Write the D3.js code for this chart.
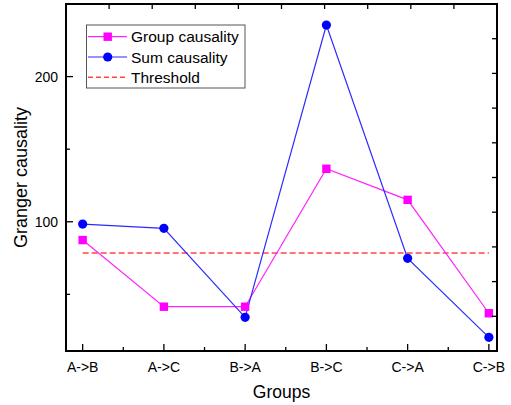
<!DOCTYPE html>
<html>
<head>
<meta charset="utf-8">
<script src="https://d3js.org/d3.v7.min.js"></script>
<style>
  body { margin: 0; background: #fff; }
  text { font-family: Arial, "Liberation Sans", sans-serif; fill: #000; }
</style>
</head>
<body>
<svg id="chart" width="511" height="405"></svg>
<script>
// --- data ---
const groups = ["A->B", "A->C", "B->A", "B->C", "C->A", "C->B"];
const groupCausality = [87.4, 41.5, 41.5, 136.5, 115.1, 37.0];
const sumCausality = [98.4, 95.5, 34.2, 235.5, 74.8, 20.4];
const threshold = 78.2;
const yMajor = [100, 200];
const yMinor = [50, 150];

const svg = d3.select("#chart");
const plotLeft = 66, plotRight = 497, plotTop = 4, plotBottom = 351;

// category index scale (Origin leaves uneven padding)
const x = d3.scaleLinear().domain([-0.205, 5.1]).range([plotLeft, plotRight]);
const y = d3.scaleLinear().domain([11, 250]).range([plotBottom, plotTop]);
// top / right axes are independent 0..10 scales
const xTop = d3.scaleLinear().domain([0, 10]).range([plotLeft, plotRight]);
const yRight = d3.scaleLinear().domain([0, 10]).range([plotBottom, plotTop]);

const thresholdColor = "#ff4646";
const g = svg.append("g");

// threshold line
const ty = Math.round(y(threshold));
g.append("line")
    .attr("x1", x(0)).attr("x2", x(groups.length - 1))
    .attr("y1", ty).attr("y2", ty)
    .attr("stroke", thresholdColor).attr("stroke-width", 1.6)
    .attr("stroke-dasharray", "6,3");

// series
const line = d3.line().x((d, i) => x(i)).y(d => y(d));
g.append("path").datum(groupCausality)
    .attr("d", line).attr("fill", "none")
    .attr("stroke", "#ff22ff").attr("stroke-width", 1.2);
g.append("path").datum(sumCausality)
    .attr("d", line).attr("fill", "none")
    .attr("stroke", "#2a2aff").attr("stroke-width", 1.2);

g.selectAll(".sq").data(groupCausality).enter().append("rect")
    .attr("x", (d, i) => x(i) - 4.2).attr("y", d => y(d) - 4.2)
    .attr("width", 8.4).attr("height", 8.4)
    .attr("fill", "#ff00ff");
g.selectAll(".dot").data(sumCausality).enter().append("circle")
    .attr("cx", (d, i) => x(i)).attr("cy", d => y(d))
    .attr("r", 4.6).attr("fill", "#0000ff");

// axes: ticks point inward
const ax = svg.append("g").attr("stroke", "#000").attr("stroke-width", 1.3);
groups.forEach((d, i) => {
    ax.append("line").attr("x1", x(i)).attr("x2", x(i)).attr("y1", plotBottom).attr("y2", plotBottom - 7);
    if (i < groups.length - 1) {
        const m = x(i + 0.5);
        ax.append("line").attr("x1", m).attr("x2", m).attr("y1", plotBottom).attr("y2", plotBottom - 4);
    }
});
yMajor.forEach(v => ax.append("line").attr("x1", plotLeft).attr("x2", plotLeft + 7).attr("y1", y(v)).attr("y2", y(v)));
yMinor.forEach(v => ax.append("line").attr("x1", plotLeft).attr("x2", plotLeft + 4).attr("y1", y(v)).attr("y2", y(v)));
d3.range(1, 10).forEach(k => {
    ax.append("line").attr("x1", xTop(k)).attr("x2", xTop(k)).attr("y1", plotTop).attr("y2", plotTop + 5);
    ax.append("line").attr("x1", plotRight).attr("x2", plotRight - 5).attr("y1", yRight(k)).attr("y2", yRight(k));
});

// frame
svg.append("rect")
    .attr("x", plotLeft).attr("y", plotTop)
    .attr("width", plotRight - plotLeft).attr("height", plotBottom - plotTop)
    .attr("fill", "none").attr("stroke", "#000").attr("stroke-width", 2);

// tick labels
svg.selectAll(".xl").data(groups).enter().append("text")
    .attr("x", (d, i) => x(i)).attr("y", 372)
    .attr("text-anchor", "middle").attr("font-size", 14)
    .text(d => d);
svg.selectAll(".yl").data(yMajor).enter().append("text")
    .attr("x", 58).attr("y", d => y(d) + 5)
    .attr("text-anchor", "end").attr("font-size", 14)
    .text(d => d);

// axis titles
svg.append("text").attr("x", (plotLeft + plotRight) / 2).attr("y", 398)
    .attr("text-anchor", "middle").attr("font-size", 17.5).text("Groups");
svg.append("text")
    .attr("transform", `translate(27,${(plotTop + plotBottom) / 2}) rotate(-90)`)
    .attr("text-anchor", "middle").attr("font-size", 18).text("Granger causality");

// legend
const lg = svg.append("g");
lg.append("rect").attr("x", 86.5).attr("y", 25).attr("width", 158.5).attr("height", 63)
    .attr("fill", "#fff").attr("stroke", "#555").attr("stroke-width", 1);
const legendItems = [
    { label: "Group causality", color: "#ff22ff", mark: "square" },
    { label: "Sum causality", color: "#2a2aff", mark: "circle" },
    { label: "Threshold", color: thresholdColor, mark: "dash" }
];
legendItems.forEach((d, i) => {
    const ly = 36.7 + i * 20.3;
    const l = lg.append("line").attr("x1", 88).attr("x2", 127).attr("y1", ly).attr("y2", ly)
        .attr("stroke", d.color).attr("stroke-width", 1.2);
    if (d.mark === "dash") l.attr("stroke-dasharray", "5,3").attr("stroke-width", 1.6);
    if (d.mark === "square") lg.append("rect").attr("x", 107.7 - 4.2).attr("y", ly - 4.2)
        .attr("width", 8.4).attr("height", 8.4).attr("fill", "#ff00ff");
    if (d.mark === "circle") lg.append("circle").attr("cx", 107.7).attr("cy", ly).attr("r", 4.6)
        .attr("fill", "#0000ff");
    lg.append("text").attr("x", 131).attr("y", ly + 5.5).attr("font-size", 15.5).text(d.label);
});
</script>
</body>
</html>
